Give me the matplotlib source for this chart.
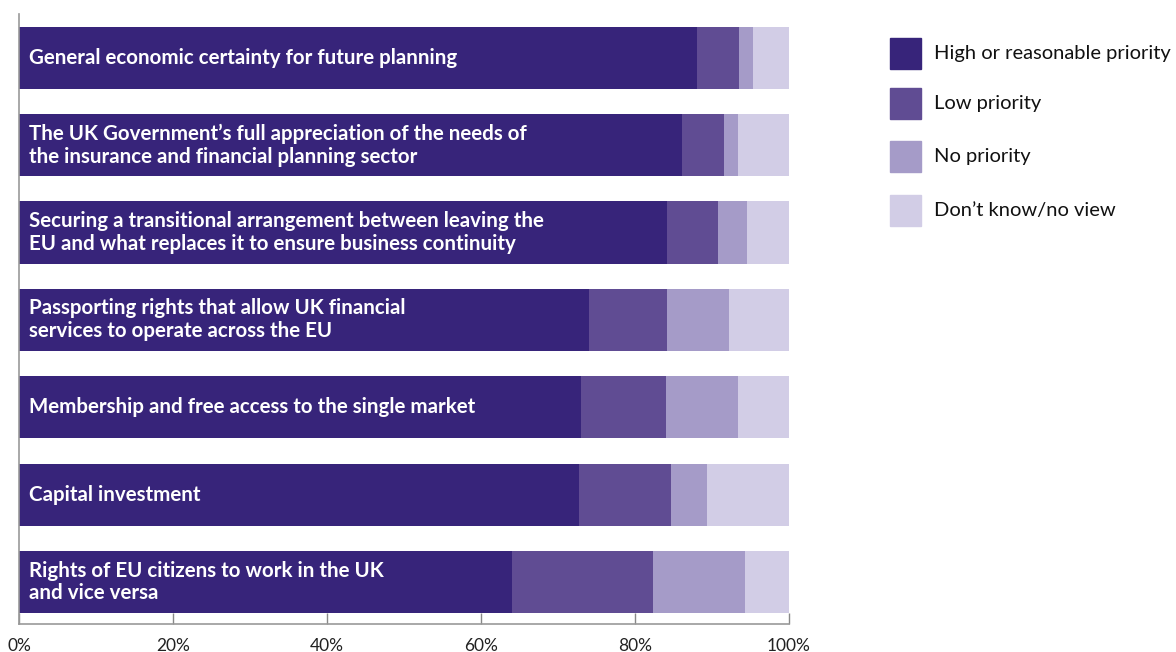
import matplotlib
matplotlib.use("Agg")
import matplotlib.pyplot as plt
from matplotlib.patches import Rectangle
import numpy as np

plt.rcParams['font.family'] = ['Lato', 'DejaVu Sans']

# survey answers, % of respondents
issues = [
    "General economic certainty for future planning",
    "The UK Government\u2019s full appreciation of the needs of\nthe insurance and financial planning sector",
    "Securing a transitional arrangement between leaving the\nEU and what replaces it to ensure business continuity",
    "Passporting rights that allow UK financial\nservices to operate across the EU",
    "Membership and free access to the single market",
    "Capital investment",
    "Rights of EU citizens to work in the UK\nand vice versa",
]
high_priority = [88.0, 86.1, 84.2, 74.0, 73.0, 72.7, 64.0]
low_priority = [5.5, 5.5, 6.6, 10.2, 11.0, 12.0, 18.3]
no_priority = [1.8, 1.8, 3.7, 8.0, 9.4, 4.7, 12.0]
dont_know = [4.7, 6.6, 5.5, 7.8, 6.6, 10.6, 5.7]

answers = ["High or reasonable priority", "Low priority", "No priority", "Don\u2019t know/no view"]
colours = ["#37247a", "#604c93", "#a59bc8", "#d2cde6"]

W, H = 1176, 652
fig = plt.figure(figsize=(W / 100, H / 100), dpi=100)
ax = fig.add_axes([19 / W, 1 - 624 / H, (789 - 19) / W, (624 - 14) / H])

ypos = np.arange(len(issues))
left = np.zeros(len(issues))
for vals, col in zip([high_priority, low_priority, no_priority, dont_know], colours):
    ax.barh(ypos, vals, left=left, height=0.71, color=col, edgecolor='none')
    left += np.array(vals)

for y, txt in zip(ypos, issues):
    ax.text(1.3, y, txt, color='white', fontsize=14.8, fontweight='bold',
            va='center', ha='left', linespacing=1.18)

ax.set_xlim(0, 100)
ax.set_ylim(len(issues) - 1 + 0.48, -0.5)
ax.set_yticks([])
ax.set_xticks(np.arange(0, 101, 20))
ax.set_xticklabels([f"{v}%" for v in range(0, 101, 20)], fontsize=12.5, color='#222222')
ax.tick_params(axis='x', direction='in', length=8, width=1, color='#888888', pad=10)
for s in ['top', 'right']:
    ax.spines[s].set_visible(False)
for s in ['left', 'bottom']:
    ax.spines[s].set_color('#999999')
    ax.spines[s].set_linewidth(1.2)

# legend boxes on the right
box_tops = [38, 88, 141, 195]
for top, lab, col in zip(box_tops, answers, colours):
    fig.add_artist(Rectangle((890 / W, 1 - (top + 31) / H), 31 / W, 31 / H,
                             transform=fig.transFigure, color=col))
    fig.text(934 / W, 1 - (top + 15.5) / H, lab, fontsize=14.5, va='center',
             ha='left', color='#111111')

fig.savefig("out.png", dpi=100)
